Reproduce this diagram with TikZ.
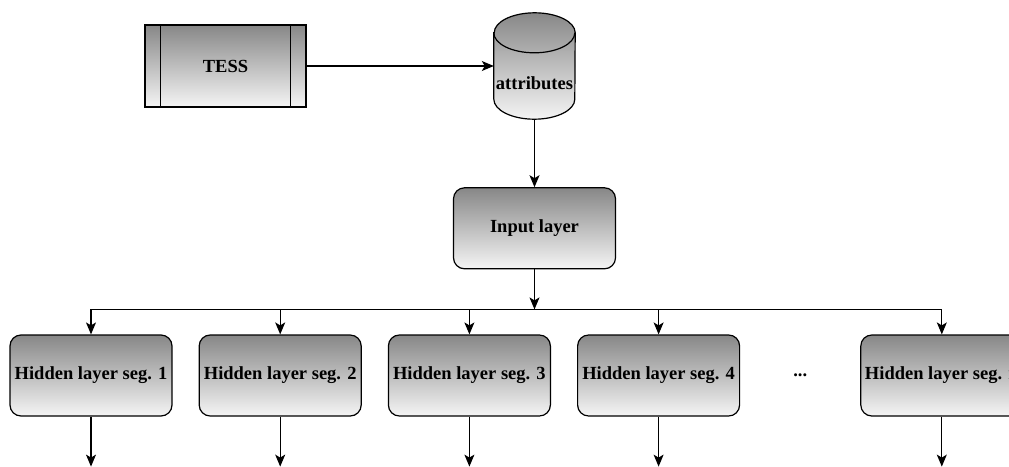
\documentclass[tikz,border=0pt]{standalone}
\usepackage{fontspec}
\setmainfont{Liberation Serif}
\usetikzlibrary{arrows.meta}
\usetikzlibrary{calc}
\usetikzlibrary{positioning}

\tikzset{
  boldtext/.style={font=\fontsize{18.5}{22}\selectfont\bfseries},
  shaded/.style={draw, line width=1.2pt, top color=black!47, bottom color=black!4, boldtext},
  procbox/.style={shaded, rectangle, minimum width=161pt, minimum height=82pt},
  layerbox/.style={shaded, rectangle, rounded corners=11pt, minimum width=162pt,
    minimum height=81pt, inner sep=0pt},
  store/.style={rectangle, minimum width=81pt, minimum height=106pt, inner sep=0pt},
  flow/.style={line width=1.2pt, -{Stealth[length=12pt,width=10pt,inset=3pt]}},
}

\begin{document}
\begin{tikzpicture}[x=1pt, y=-1pt]
    \useasboundingbox (0,0) rectangle (1009,466);
    \clip (0,0) rectangle (1009,466);

    \node[procbox] (tess) at (225.5,66) {TESS};
    \node[store] (attr) at (534.5,66) {};
    \node[layerbox, below=68pt of attr] (input) {Input layer};

    % the cylinder
    \path[shaded] ([yshift=-20pt]attr.north west) -- ([yshift=20pt]attr.south west)
      arc[start angle=180, end angle=360, x radius=40.5pt, y radius=20pt]
      -- ([yshift=-20pt]attr.north east)
      arc[start angle=0, end angle=180, x radius=40.5pt, y radius=20pt] -- cycle;
    \draw[line width=1.2pt] ([yshift=-20pt]attr.north west)
      arc[start angle=180, end angle=360, x radius=40.5pt, y radius=20pt];
    \node[boldtext] (attrtext) at ([yshift=-17pt]attr.center) {attributes};

    \node[layerbox] (h1) at (91,375.5) {Hidden layer seg. 1};
    \node[layerbox, right=26pt of h1] (h2) {Hidden layer seg. 2};
    \node[layerbox, right=26pt of h2] (h3) {Hidden layer seg. 3};
    \node[layerbox, right=26pt of h3] (h4) {Hidden layer seg. 4};
    \node[layerbox, right=120pt of h4] (hn) {Hidden layer seg. n};
    \node[boldtext] (dots) at ($(h4.east)!0.5!(hn.west)$) {...};

    \draw ([xshift=16pt]tess.north west) -- ([xshift=16pt]tess.south west);
    \draw ([xshift=-16pt]tess.north east) -- ([xshift=-16pt]tess.south east);

    \draw[flow] (tess.east) -- (attr.west |- tess.east);
    \draw[flow] (attr.south) -- (input.north);

    % bus to the segments
    \coordinate (split) at ([yshift=-40pt]input.south);
    \draw[flow] (input.south) -- (split);
    \draw[line width=1.2pt] (h1.north |- split) -- (hn.north |- split);
    \foreach \i in {1,2,3,4,n} {
      \draw[flow] (h\i.north |- split) -- (h\i.north);
      \coordinate (out\i) at ([yshift=-50pt]h\i.south);
      \draw[flow] (h\i.south) -- (out\i);
    }
  \end{tikzpicture}
\end{document}
